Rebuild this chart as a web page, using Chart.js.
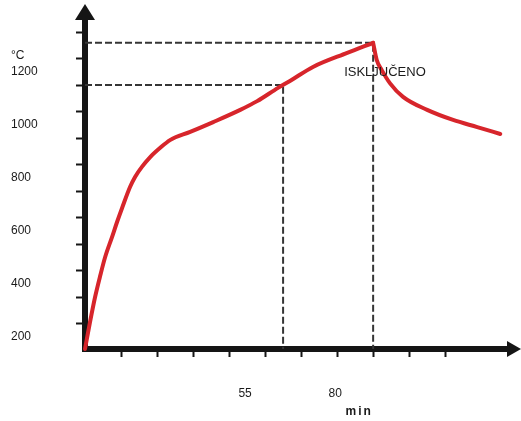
<!DOCTYPE html>
<html>
<head>
<meta charset="utf-8">
<script src="https://cdn.jsdelivr.net/npm/chart.js@4"></script>
<style>
  html, body { margin: 0; padding: 0; background: #fff; }
  canvas { display: block; }
</style>
</head>
<body>
<canvas id="furnaceChart" width="521" height="421"></canvas>
<script>
// heating curve (time in min, temperature in °C)
const heatTime = [0, 1.4, 2.8, 4.2, 5.6, 7.5, 8.9, 10.3, 12.5, 13.9, 15.8, 18.1, 20.8, 23.6, 29.2, 35.6, 43.1, 47.8, 53.6, 56.9, 63.3, 72.8, 80];
const heatTemp = [155, 257, 351, 430, 502, 577, 634, 687, 766, 804, 842, 879, 913, 943, 974, 1011, 1057, 1090, 1140, 1166, 1219, 1272, 1310];

// cooling after switch-off
const coolTime = [80, 81.0, 82.4, 84.7, 88.3, 95, 102.2, 108.9, 115.3];
const coolTemp = [1310, 1245, 1207, 1157, 1106, 1057, 1019, 992, 966];

// dashed reference lines
const markTimes = [55, 80];
const markTemps = [1151, 1310];

// axes
const yLabelValues = [200, 400, 600, 800, 1000, 1200];
const yMarkValues = [250, 350, 450, 550, 650, 750, 850, 950, 1050, 1150, 1250, 1350];
const xMarkValues = [10, 20, 30, 40, 50, 60, 70, 80, 90, 100];
const xLabelValues = [55, 80];

const yMin = 155;
const axisColor = '#151515';
const textColor = '#1a1a1a';

Chart.defaults.font.family = '"Liberation Sans", Arial, sans-serif';

const toPoints = (xs, ys) => xs.map((v, i) => ({ x: v, y: ys[i] }));

const dashedSets = markTimes.map((t, i) => ({
  data: [{ x: 0, y: markTemps[i] }, { x: t, y: markTemps[i] }, { x: t, y: yMin }],
  borderColor: '#353535',
  borderWidth: 2,
  borderDash: [7, 3],
  pointRadius: 0,
  tension: 0,
  order: 3
}));

// hand drawn axes with arrows + free text
const sketchAxes = {
  id: 'sketchAxes',
  beforeDatasetsDraw(chart) {
    const { ctx, chartArea: a } = chart;
    ctx.save();
    ctx.strokeStyle = axisColor;
    ctx.fillStyle = axisColor;
    ctx.lineWidth = 6;
    ctx.beginPath();
    ctx.moveTo(a.left, a.bottom + 3);
    ctx.lineTo(a.left, a.top - 2);
    ctx.stroke();
    ctx.beginPath();
    ctx.moveTo(a.left - 3, a.bottom);
    ctx.lineTo(a.right, a.bottom);
    ctx.stroke();
    // arrow heads
    ctx.beginPath();
    ctx.moveTo(a.left, a.top - 16);
    ctx.lineTo(a.left - 10, a.top);
    ctx.lineTo(a.left + 10, a.top);
    ctx.closePath();
    ctx.fill();
    ctx.beginPath();
    ctx.moveTo(a.right + 11, a.bottom);
    ctx.lineTo(a.right - 3, a.bottom - 8);
    ctx.lineTo(a.right - 3, a.bottom + 8);
    ctx.closePath();
    ctx.fill();
    ctx.restore();
  },
  afterDraw(chart) {
    const { ctx, scales: { x, y } } = chart;
    ctx.save();
    ctx.fillStyle = textColor;
    ctx.textBaseline = 'middle';

    ctx.font = '12px "Liberation Sans", Arial, sans-serif';
    ctx.textAlign = 'left';
    ctx.fillText('°C', y.left, y.getPixelForValue(1260));

    ctx.textAlign = 'center';
    xLabelValues.forEach(v => {
      ctx.fillText(String(v), x.getPixelForValue(v) - 38, x.top + 45);
    });

    ctx.font = 'bold 12px "Liberation Sans", Arial, sans-serif';
    ctx.letterSpacing = '2px';
    ctx.fillText('min', x.getPixelForValue(80) - 14, x.top + 63);
    ctx.letterSpacing = '0px';

    ctx.font = '13px "Liberation Sans", Arial, sans-serif';
    ctx.textAlign = 'left';
    ctx.fillText('ISKLJUČENO', x.getPixelForValue(80) - 29, y.getPixelForValue(1200));
    ctx.restore();
  }
};

new Chart(document.getElementById('furnaceChart'), {
  type: 'line',
  data: {
    datasets: [
      {
        data: toPoints(heatTime, heatTemp),
        borderColor: '#d7252b',
        borderWidth: 4,
        borderCapStyle: 'round',
        pointRadius: 0,
        cubicInterpolationMode: 'monotone',
        clip: false,
        order: 1
      },
      {
        data: toPoints(coolTime, coolTemp),
        borderColor: '#d7252b',
        borderWidth: 4,
        borderCapStyle: 'round',
        pointRadius: 0,
        cubicInterpolationMode: 'monotone',
        clip: false,
        order: 1
      },
      ...dashedSets
    ]
  },
  options: {
    responsive: false,
    animation: false,
    layout: { padding: { left: 11, top: 20, right: 11, bottom: 0 } },
    plugins: {
      legend: { display: false },
      tooltip: { enabled: false }
    },
    scales: {
      x: {
        type: 'linear',
        min: 0,
        max: 118,
        border: { display: false },
        grid: { drawOnChartArea: false, tickLength: 8, tickWidth: 2, tickColor: axisColor },
        ticks: { display: false },
        afterBuildTicks: s => { s.ticks = xMarkValues.map(v => ({ value: v })); },
        afterFit: s => { s.height = 72; }
      },
      y: {
        type: 'linear',
        min: yMin,
        max: 1396,
        border: { display: false },
        grid: {
          drawOnChartArea: false,
          tickLength: 9,
          tickWidth: 2,
          tickColor: c => (c.tick && yMarkValues.includes(c.tick.value)) ? axisColor : 'rgba(0,0,0,0)'
        },
        ticks: {
          crossAlign: 'far',
          color: textColor,
          font: { size: 12 },
          callback: v => yLabelValues.includes(v) ? String(v) : ''
        },
        afterBuildTicks: s => {
          s.ticks = [...yLabelValues, ...yMarkValues].sort((a, b) => a - b).map(v => ({ value: v }));
        },
        afterFit: s => { s.width = 74; }
      }
    }
  },
  plugins: [sketchAxes]
});
</script>
</body>
</html>
